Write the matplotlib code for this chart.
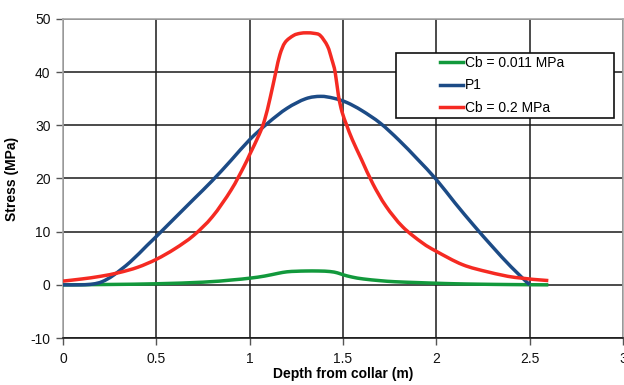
import matplotlib
matplotlib.use("Agg")
import matplotlib.pyplot as plt
import numpy as np
from matplotlib.patches import Rectangle, PathPatch
from matplotlib.path import Path
from matplotlib.lines import Line2D

plt.rcParams['font.family'] = ['Liberation Sans', 'DejaVu Sans']
plt.rcParams['axes.unicode_minus'] = False

# Data
green_x = [0.0, 0.25, 0.5, 0.75, 0.9, 1.0, 1.08, 1.15, 1.2, 1.25, 1.3, 1.37, 1.43, 1.47, 1.5, 1.55, 1.61, 1.7, 1.78, 1.9, 2.0, 2.1, 2.23, 2.4, 2.6]
green_y = [0.0, 0.07, 0.2, 0.5, 0.9, 1.25, 1.65, 2.15, 2.45, 2.55, 2.6, 2.6, 2.5, 2.25, 1.9, 1.45, 1.1, 0.78, 0.58, 0.42, 0.3, 0.2, 0.12, 0.05, 0.0]

blue_x = [0.0, 0.1, 0.16, 0.21, 0.27, 0.36, 0.45, 0.5, 0.6, 0.7, 0.8, 0.9, 1.0, 1.1, 1.2, 1.3, 1.38, 1.45, 1.52, 1.6, 1.7, 1.8, 1.9, 2.0, 2.1, 2.2, 2.3, 2.4, 2.5]
blue_y = [0.0, 0.0, 0.15, 0.6, 1.8, 4.3, 7.4, 9.1, 12.6, 16.1, 19.6, 23.4, 27.3, 30.5, 33.2, 35.0, 35.45, 35.1, 34.3, 32.8, 30.4, 27.2, 23.6, 19.8, 15.4, 11.2, 7.2, 3.4, 0.0]

red_x = [0.0, 0.1, 0.2, 0.3, 0.4, 0.5, 0.6, 0.7, 0.8, 0.9, 0.97, 1.0, 1.05, 1.08, 1.11, 1.14, 1.162, 1.19, 1.235, 1.27, 1.306, 1.345, 1.378, 1.417, 1.44, 1.458, 1.476, 1.495, 1.52, 1.55, 1.6, 1.66, 1.73, 1.82, 1.925, 2.0, 2.14, 2.28, 2.42, 2.6]
red_y = [0.7, 1.1, 1.6, 2.3, 3.3, 4.8, 6.8, 9.3, 12.8, 17.8, 22.3, 24.5, 28.2, 31.0, 35.2, 40.0, 43.3, 45.6, 46.9, 47.3, 47.4, 47.3, 46.9, 44.9, 42.4, 40.0, 35.5, 32.5, 30.0, 27.3, 23.5, 19.0, 14.8, 10.9, 7.9, 6.3, 3.8, 2.4, 1.4, 0.8]

labels = ['Cb = 0.011 MPa', 'P1', 'Cb = 0.2 MPa']
colors = ['#12993c', '#1c4b86', '#f52a22']
x_ticks = [0, 0.5, 1, 1.5, 2, 2.5, 3]
x_tick_labels = ['0', '0.5', '1', '1.5', '2', '2.5', '3']
y_ticks = [-10, 0, 10, 20, 30, 40, 50]


def smooth_path(xs, ys):
    """Catmull-Rom style Bezier path through the data points (like a smoothed line)."""
    p = np.column_stack([xs, ys]).astype(float)
    n = len(p)
    verts = [p[0]]
    codes = [Path.MOVETO]
    for i in range(n - 1):
        p0 = p[i - 1] if i > 0 else p[i]
        p1 = p[i]
        p2 = p[i + 1]
        p3 = p[i + 2] if i + 2 < n else p[i + 1]
        c1 = p1 + (p2 - p0) / 6.0
        c2 = p2 - (p3 - p1) / 6.0
        verts += [c1, c2, p2]
        codes += [Path.CURVE4] * 3
    return Path(verts, codes)


fig = plt.figure(figsize=(6.24, 3.85), dpi=100)
ax = fig.add_axes([63/624, 1 - 338/385, (623 - 63)/624, (338 - 19)/385])

lw = 2.5
handles = []
for xs, ys, c, lab in [(green_x, green_y, colors[0], labels[0]),
                       (blue_x, blue_y, colors[1], labels[1]),
                       (red_x, red_y, colors[2], labels[2])]:
    patch = PathPatch(smooth_path(xs, ys), facecolor='none', edgecolor=c, lw=lw,
                      capstyle='butt', joinstyle='round', zorder=3)
    ax.add_patch(patch)
    handles.append(Line2D([], [], color=c, lw=lw, label=lab))

ax.set_xlim(0, 2.985)
ax.set_ylim(-10, 50)
ax.set_xticks(x_ticks)
ax.set_xticklabels(x_tick_labels)
ax.set_yticks(y_ticks)
ax.grid(True, color='#1a1a1a', lw=1.1, zorder=1)
ax.set_axisbelow(True)

for s in ['top', 'right', 'left']:
    ax.spines[s].set_color('#a8a8a8')
    ax.spines[s].set_linewidth(1.2)
ax.spines['bottom'].set_color('#1a1a1a')
ax.spines['bottom'].set_linewidth(1.2)

ax.tick_params(axis='both', direction='out', length=5, width=1.0, color='#555555',
               labelsize=10, labelcolor='#111111', pad=4)
ax.tick_params(axis='x', pad=5)

ax.set_xlabel('Depth from collar (m)', fontsize=10, fontweight='bold', labelpad=1)
ax.set_ylabel('Stress (MPa)', fontsize=10, fontweight='bold', labelpad=8)

# legend box
bx0, bx1 = (396 - 63)/560, (614 - 63)/560
by0, by1 = (338 - 118)/319, (338 - 53)/319
rect = Rectangle((bx0, by0), bx1 - bx0, by1 - by0, transform=ax.transAxes,
                 facecolor='white', edgecolor='#111111', lw=1.2, zorder=5)
ax.add_patch(rect)
leg = ax.legend(handles=handles, loc='center',
                bbox_to_anchor=((bx0 + bx1)/2 - 0.005, (by0 + by1)/2),
                frameon=False, fontsize=10, handlelength=1.6, handletextpad=0.15,
                labelspacing=0.6, borderpad=0)
leg.set_zorder(6)

fig.savefig('out.png', dpi=100)
